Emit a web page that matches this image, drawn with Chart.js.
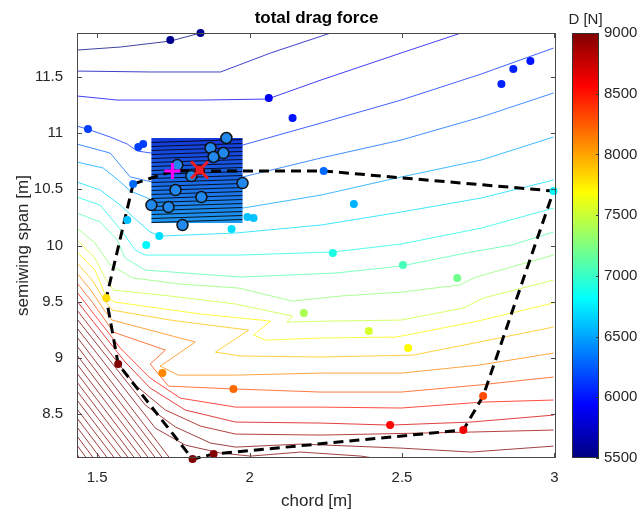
<!DOCTYPE html>
<html>
<head>
<meta charset="utf-8">
<script src="https://cdn.jsdelivr.net/npm/chart.js@4.4.0/dist/chart.umd.min.js"></script>
<style>
  html, body { margin: 0; padding: 0; background: #fff; }
  canvas { display: block; }
</style>
</head>
<body>
<canvas id="grafico" width="639" height="511"></canvas>
<script>
// Marcas de los ejes y de la barra de color
const xTicks = [1.5, 2, 2.5, 3];
const yTicks = [8.5, 9, 9.5, 10, 10.5, 11, 11.5];
const cbTicks = [5500, 6000, 6500, 7000, 7500, 8000, 8500, 9000];
const cbRange = [5500, 9000];

// Niveles de las curvas de contorno (N)
const contourLevels = [5500, 5700, 5900, 6100, 6300, 6500, 6700, 6900, 7100, 7300,
  7500, 7700, 7900, 8100, 8300, 8500, 8700, 8900, 9100, 9300, 9500, 9700, 9900,
  10100, 10300, 10500, 10700, 10900, 11100, 11300, 11500, 11700, 11900, 12100];

// Curvas de contorno [cuerda, semienvergadura], una por nivel
const contourLines = [
  [[1.434,11.740],[1.576,11.767],[1.740,11.820],[1.839,11.892]],
  [[1.434,11.553],[1.674,11.545],[1.905,11.545],[2.069,11.714],[2.266,11.892]],
  [[1.434,11.331],[1.566,11.295],[1.839,11.295],[2.059,11.304],[2.234,11.473],[2.497,11.714],[2.694,11.892]],
  [[1.434,11.064],[1.477,11.028],[1.543,10.966],[1.599,10.903],[1.632,10.841],[1.678,10.823],[1.977,10.894],[2.234,11.090],[2.497,11.295],[2.760,11.527],[2.997,11.758]],
  [[1.434,10.903],[1.543,10.823],[1.576,10.716],[1.609,10.610],[1.681,10.565],[1.977,10.610],[2.234,10.779],[2.497,10.939],[2.760,11.144],[2.997,11.358]],
  [[1.434,10.743],[1.520,10.690],[1.569,10.583],[1.609,10.485],[1.681,10.405],[1.977,10.333],[2.234,10.449],[2.497,10.610],[2.760,10.761],[2.997,10.966]],
  [[1.434,10.565],[1.510,10.494],[1.576,10.360],[1.618,10.253],[1.674,10.120],[1.707,10.084],[1.954,10.111],[2.234,10.182],[2.497,10.298],[2.760,10.423],[2.997,10.583]],
  [[1.434,10.431],[1.510,10.360],[1.586,10.111],[1.625,9.959],[1.658,9.915],[1.970,9.915],[2.273,9.942],[2.497,10.013],[2.760,10.155],[2.997,10.333]],
  [[1.434,10.289],[1.510,10.209],[1.566,10.049],[1.592,9.888],[1.658,9.781],[1.970,9.719],[2.283,9.755],[2.497,9.817],[2.727,9.942],[2.859,10.004],[2.997,10.120]],
  [[1.434,10.155],[1.493,10.022],[1.543,9.826],[1.618,9.710],[1.773,9.657],[1.964,9.621],[2.141,9.505],[2.299,9.550],[2.497,9.585],[2.688,9.648],[2.743,9.719],[2.997,9.915]],
  [[1.434,10.049],[1.493,9.888],[1.526,9.710],[1.553,9.603],[1.740,9.550],[1.954,9.479],[2.141,9.372],[2.122,9.318],[2.266,9.327],[2.497,9.336],[2.701,9.443],[2.766,9.532],[2.997,9.692]],
  [[1.434,9.942],[1.493,9.781],[1.530,9.541],[1.559,9.496],[1.839,9.390],[2.069,9.327],[2.013,9.203],[2.053,9.158],[2.234,9.176],[2.480,9.185],[2.734,9.318],[2.997,9.488]],
  [[1.434,9.844],[1.484,9.692],[1.523,9.514],[1.549,9.425],[1.740,9.336],[1.997,9.247],[1.888,9.051],[1.970,9.016],[2.234,9.007],[2.536,9.024],[2.753,9.140],[2.997,9.274]],
  [[1.434,9.755],[1.484,9.585],[1.523,9.425],[1.549,9.336],[1.822,9.140],[1.707,8.926],[1.766,8.846],[1.954,8.846],[2.234,8.864],[2.497,8.864],[2.753,8.935],[2.997,9.042]],
  [[1.434,9.666],[1.484,9.496],[1.526,9.336],[1.553,9.229],[1.724,9.069],[1.674,8.944],[1.734,8.748],[1.954,8.722],[2.234,8.695],[2.497,8.695],[2.750,8.757],[2.997,8.829]],
  [[1.434,9.585],[1.510,9.318],[1.576,9.087],[1.674,8.820],[1.773,8.641],[1.954,8.561],[2.234,8.561],[2.497,8.553],[2.766,8.606],[2.997,8.624]],
  [[1.434,9.505],[1.592,8.962],[1.674,8.731],[1.789,8.535],[1.954,8.428],[2.234,8.419],[2.461,8.401],[2.727,8.428],[2.997,8.490]],
  [[1.434,9.425],[1.625,8.757],[1.724,8.535],[1.839,8.392],[1.954,8.321],[2.234,8.312],[2.727,8.339],[2.997,8.357]],
  [[1.434,9.345],[1.658,8.579],[1.757,8.384],[1.872,8.241],[1.954,8.205],[2.168,8.232],[2.497,8.196],[2.727,8.161],[2.997,8.214]],
  [[1.434,9.265],[1.691,8.374],[1.789,8.223],[1.905,8.152],[2.003,8.125],[2.168,8.161],[2.365,8.125],[2.431,8.098]],
  [[1.434,9.185],[1.740,8.100]],
  [[1.434,9.105],[1.717,8.100]],
  [[1.434,9.024],[1.694,8.100]],
  [[1.434,8.944],[1.671,8.100]],
  [[1.434,8.864],[1.648,8.100]],
  [[1.434,8.784],[1.625,8.100]],
  [[1.434,8.704],[1.605,8.100]],
  [[1.434,8.624],[1.582,8.100]],
  [[1.434,8.544],[1.559,8.100]],
  [[1.434,8.463],[1.536,8.100]],
  [[1.434,8.383],[1.513,8.100]],
  [[1.434,8.303],[1.490,8.100]],
  [[1.434,8.223],[1.467,8.100]],
  [[1.434,8.143],[1.444,8.100]]
];

// Puntos evaluados, coloreados por su resistencia D
const dotChord = [1.740, 1.839, 2.063, 2.141, 2.826, 2.865, 2.921, 1.470, 1.635, 1.651, 1.618, 2.243, 2.342, 2.997,
  1.599, 1.661, 1.704, 1.941, 1.993, 2.013, 2.273, 2.503, 2.681, 2.178, 2.391, 2.520, 1.530, 1.714, 1.947, 2.766,
  2.461, 2.701, 1.569, 1.882, 1.813];
const dotSpan = [11.829, 11.892, 11.313, 11.135, 11.438, 11.571, 11.642, 11.037, 10.877, 10.903, 10.547, 10.663, 10.369, 10.485,
  10.227, 10.004, 10.084, 10.146, 10.253, 10.244, 9.933, 9.826, 9.710, 9.398, 9.238, 9.087, 9.532, 8.864, 8.722, 8.659,
  8.401, 8.357, 8.944, 8.143, 8.098];
const dotD = [5550, 5550, 5900, 6000, 6050, 6050, 6000, 6150, 6150, 6150, 6300, 6300, 6550, 6800,
  6600, 6800, 6700, 6700, 6600, 6600, 6900, 7050, 7200, 7400, 7550, 7700, 7800, 8100, 8200, 8300,
  8550, 8600, 9000, 9000, 9000];

// Puntos del diseño local (círculos con borde negro)
const designChord = [1.924, 1.872, 1.914, 1.882, 1.763, 1.809, 1.977, 1.757, 1.842, 1.678, 1.734, 1.780];
const designSpan = [10.957, 10.868, 10.823, 10.788, 10.716, 10.618, 10.556, 10.494, 10.431, 10.360, 10.342, 10.182];

// Región factible (línea discontinua)
const polyChord = [1.618, 1.747, 2.243, 2.997, 2.766, 2.701, 1.882, 1.813, 1.569, 1.530, 1.618];
const polySpan = [10.547, 10.663, 10.663, 10.485, 8.659, 8.357, 8.143, 8.098, 8.944, 9.532, 10.547];

// Zona de refinamiento, punto base (+) y óptimo (x)
const rectChord = [1.678, 1.977];
const rectSpan = [10.200, 10.957];
const baseline = [1.747, 10.663];
const optimum = [1.836, 10.672];

const FONT = '"Liberation Sans", Arial, Helvetica, sans-serif';
const TEXT = '#262626';

// Mapa de color tipo "jet" de MATLAB
function jet(v, alpha) {
  let t = (v - cbRange[0]) / (cbRange[1] - cbRange[0]);
  t = Math.min(1, Math.max(0, t));
  const c = k => Math.round(255 * Math.min(1, Math.max(0, 1.5 - Math.abs(4 * t - k))));
  return 'rgba(' + c(3) + ',' + c(2) + ',' + c(1) + ',' + (alpha === undefined ? 1 : alpha) + ')';
}

const zip = (a, b) => a.map((v, i) => [v, b[i]]);

// Plugin: recuadro, marcas interiores, barra de color y textos
const estiloMatlab = {
  id: 'estiloMatlab',
  beforeDatasetDraw(chart, args) {
    if (chart.data.datasets[args.index].label !== 'region') return;
    const { x, y } = chart.scales;
    const ctx = chart.ctx;
    const l = x.getPixelForValue(rectChord[0]), r = x.getPixelForValue(rectChord[1]);
    const t = y.getPixelForValue(rectSpan[1]), b = y.getPixelForValue(rectSpan[0]);
    ctx.save();
    const g = ctx.createLinearGradient(0, t, 0, b);
    g.addColorStop(0, '#1438da');
    g.addColorStop(1, '#1f98f0');
    ctx.fillStyle = g;
    ctx.fillRect(l, t, r - l, b - t);
    ctx.beginPath();
    ctx.rect(l, t, r - l, b - t);
    ctx.clip();
    ctx.strokeStyle = 'rgba(0,0,0,0.85)';
    ctx.lineWidth = 1;
    for (let yy = t + 3; yy < b + 4; yy += 4) {
      ctx.beginPath();
      ctx.moveTo(l, yy + 1.5);
      ctx.lineTo(r, yy - 1.5);
      ctx.stroke();
    }
    ctx.restore();
  },
  afterDraw(chart) {
    const { ctx, chartArea: a } = chart;
    const { x, y } = chart.scales;
    ctx.save();

    // Recuadro y marcas hacia dentro
    ctx.strokeStyle = '#4a4a4a';
    ctx.lineWidth = 1;
    ctx.strokeRect(a.left + 0.5, a.top + 0.5, a.right - a.left - 1, a.bottom - a.top - 1);
    ctx.beginPath();
    xTicks.forEach(v => {
      const p = Math.round(x.getPixelForValue(v)) + 0.5;
      ctx.moveTo(p, a.bottom); ctx.lineTo(p, a.bottom - 5);
      ctx.moveTo(p, a.top); ctx.lineTo(p, a.top + 5);
    });
    yTicks.forEach(v => {
      const p = Math.round(y.getPixelForValue(v)) + 0.5;
      ctx.moveTo(a.left, p); ctx.lineTo(a.left + 5, p);
      ctx.moveTo(a.right, p); ctx.lineTo(a.right - 5, p);
    });
    ctx.stroke();

    // Barra de color
    const cbL = 572, cbR = 599;
    const cbY = v => a.bottom - (v - cbRange[0]) / (cbRange[1] - cbRange[0]) * (a.bottom - a.top);
    const grad = ctx.createLinearGradient(0, a.bottom, 0, a.top);
    for (let i = 0; i <= 40; i++) {
      grad.addColorStop(i / 40, jet(cbRange[0] + i / 40 * (cbRange[1] - cbRange[0])));
    }
    ctx.fillStyle = grad;
    ctx.fillRect(cbL, a.top, cbR - cbL, a.bottom - a.top);
    ctx.strokeStyle = '#333';
    ctx.strokeRect(cbL + 0.5, a.top + 0.5, cbR - cbL - 1, a.bottom - a.top - 1);
    ctx.fillStyle = TEXT;
    ctx.font = '15px ' + FONT;
    ctx.textAlign = 'left';
    ctx.textBaseline = 'middle';
    ctx.beginPath();
    cbTicks.forEach(v => {
      const p = Math.round(cbY(v)) + 0.5;
      ctx.moveTo(cbR, p); ctx.lineTo(cbR - 3, p);
      ctx.fillText(String(v), cbR + 5, cbY(v));
    });
    ctx.stroke();

    // Títulos
    ctx.textAlign = 'center';
    ctx.textBaseline = 'alphabetic';
    ctx.fillText('D [N]', (cbL + cbR) / 2, 24);
    ctx.font = 'bold 17px ' + FONT;
    ctx.fillStyle = '#000';
    ctx.fillText('total drag force', (a.left + a.right) / 2, 23);
    ctx.font = '17px ' + FONT;
    ctx.fillStyle = TEXT;
    ctx.fillText('chord [m]', (a.left + a.right) / 2, 506);
    ctx.translate(28, (a.top + a.bottom) / 2);
    ctx.rotate(-Math.PI / 2);
    ctx.fillText('semiwing span [m]', 0, 0);
    ctx.restore();
  }
};

// Conjuntos de datos: el primero se dibuja encima
const datasets = [
  { label: 'optimo', data: [optimum], pointStyle: 'crossRot', pointRadius: 12, borderColor: '#ee1c24', borderWidth: 3, backgroundColor: '#ee1c24' },
  { label: 'optimoCentro', data: [optimum], pointStyle: 'circle', pointRadius: 4.5, borderColor: '#5a0000', borderWidth: 1, backgroundColor: '#ee1c24' },
  { label: 'base', data: [baseline], pointStyle: 'cross', pointRadius: 8, borderColor: '#ff00ff', borderWidth: 3 },
  { label: 'diseno', data: zip(designChord, designSpan), pointRadius: 5.5, borderColor: '#111', borderWidth: 1.5, backgroundColor: '#2188ee' },
  { label: 'puntos', data: zip(dotChord, dotSpan), pointRadius: 4, borderWidth: 0, backgroundColor: dotD.map(v => jet(v)), clip: false },
  { label: 'region', data: zip(polyChord, polySpan), showLine: true, pointRadius: 0, borderColor: '#000', borderWidth: 3, borderDash: [10, 6], clip: false }
];
contourLines.forEach((linea, i) => {
  datasets.push({ label: 'D' + contourLevels[i], data: linea, showLine: true, pointRadius: 0, borderColor: jet(contourLevels[i], 0.75), borderWidth: 1, tension: 0 });
});

new Chart(document.getElementById('grafico'), {
  type: 'scatter',
  data: { datasets },
  options: {
    responsive: false,
    animation: false,
    devicePixelRatio: 1,
    events: [],
    layout: { padding: { left: 0, right: 83, top: 33, bottom: 0 } },
    plugins: { legend: { display: false }, tooltip: { enabled: false }, title: { display: false } },
    scales: {
      x: {
        type: 'linear', min: 1.434, max: 3.005,
        afterBuildTicks: s => { s.ticks = xTicks.map(v => ({ value: v })); },
        afterFit: s => { s.height = 53; },
        grid: { display: false, drawTicks: false },
        border: { display: false },
        ticks: { autoSkip: false, maxRotation: 0, padding: 11, color: TEXT, font: { family: FONT, size: 15 }, callback: v => String(v) }
      },
      y: {
        type: 'linear', min: 8.108, max: 11.892,
        afterBuildTicks: s => { s.ticks = yTicks.map(v => ({ value: v })); },
        afterFit: s => { s.width = 77; },
        grid: { display: false, drawTicks: false },
        border: { display: false },
        ticks: { autoSkip: false, padding: 14, color: TEXT, font: { family: FONT, size: 15 }, callback: v => String(v) }
      }
    }
  },
  plugins: [estiloMatlab]
});
</script>
</body>
</html>
